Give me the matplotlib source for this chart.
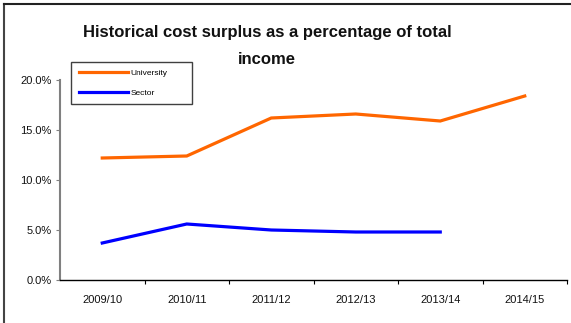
import matplotlib
matplotlib.use("Agg")
import matplotlib.pyplot as plt
from matplotlib.lines import Line2D
from matplotlib.legend_handler import HandlerLine2D
from matplotlib.ticker import FixedLocator, FuncFormatter
import numpy as np

plt.rcParams['font.family'] = ['Liberation Sans', 'DejaVu Sans']

years = ["2009/10", "2010/11", "2011/12", "2012/13", "2013/14", "2014/15"]
university = [12.2, 12.4, 16.2, 16.6, 15.9, 18.4]
sector = [3.7, 5.6, 5.0, 4.8, 4.8]
y_ticks = [0, 5, 10, 15, 20]

W, H = 571, 323
fig = plt.figure(figsize=(W / 100, H / 100), dpi=100)
ax = fig.add_axes([60 / W, (H - 280) / H, 507 / W, 200 / H])

x_uni = np.arange(len(university))
x_sec = np.arange(len(sector))
ax.plot(x_uni, university, color="#FF6600", lw=2.3, label="University",
        solid_joinstyle="miter")
ax.plot(x_sec, sector, color="#0000FF", lw=2.3, label="Sector",
        solid_joinstyle="miter")

ax.set_xlim(-0.5, len(years) - 0.5)
ax.set_ylim(0, 20)

# category labels centred, tick marks on the category boundaries
ax.set_xticks(np.arange(len(years)))
ax.set_xticklabels(years, fontsize=8, color="#111111")
ax.tick_params(axis="x", which="major", length=0, pad=11)
ax.xaxis.set_minor_locator(FixedLocator(np.arange(0.5, len(years), 1.0)))
ax.tick_params(axis="x", which="minor", length=3, width=0.8, color="black",
               direction="out")

ax.set_yticks(y_ticks)
ax.yaxis.set_major_formatter(FuncFormatter(lambda v, _: f"{v:.1f}%"))
ax.tick_params(axis="y", length=3, width=0.8, color="#808080", labelsize=8,
               labelcolor="#111111", pad=3)

for side in ("top", "right"):
    ax.spines[side].set_visible(False)
ax.spines["left"].set_color("#808080")
ax.spines["left"].set_linewidth(1.5)
ax.spines["bottom"].set_color("black")
ax.spines["bottom"].set_linewidth(1.0)


class RightAlignedLine(HandlerLine2D):
    """Draw the legend line only in the right-hand part of the handle box."""
    seg = 35.0

    def get_xdata(self, legend, xdescent, ydescent, width, height, fontsize):
        x1 = -xdescent + width
        return np.array([x1 - self.seg, x1]), np.array([x1 - self.seg, x1])


leg = ax.legend(loc="upper left",
                bbox_to_anchor=(71 / W, 1 - 62 / H, 121 / W, 0),
                bbox_transform=fig.transFigure, mode="expand",
                borderaxespad=0, fontsize=6, borderpad=0.85,
                handlelength=6.0, handletextpad=0.25, labelspacing=1.45,
                fancybox=False, framealpha=1,
                handler_map={plt.Line2D: RightAlignedLine()})
leg.get_frame().set_edgecolor("#404040")
leg.get_frame().set_linewidth(1.0)

fig.text(267 / W, 1 - 46 / H,
         "Historical cost surplus as a percentage of total\nincome",
         ha="center", va="center", fontsize=12, fontweight="bold",
         linespacing=1.95, color="#111111")

# outer chart frame: only its left and top edges lie within the image
x0 = 3.5 / W
y0 = 1 - 3.5 / H
fig.add_artist(Line2D([x0, x0], [0, y0], transform=fig.transFigure,
                      color="#444444", lw=1.5))
fig.add_artist(Line2D([x0, 1], [y0, y0], transform=fig.transFigure,
                      color="#222222", lw=1.5, solid_capstyle="projecting"))

fig.savefig("out.png", dpi=100)
